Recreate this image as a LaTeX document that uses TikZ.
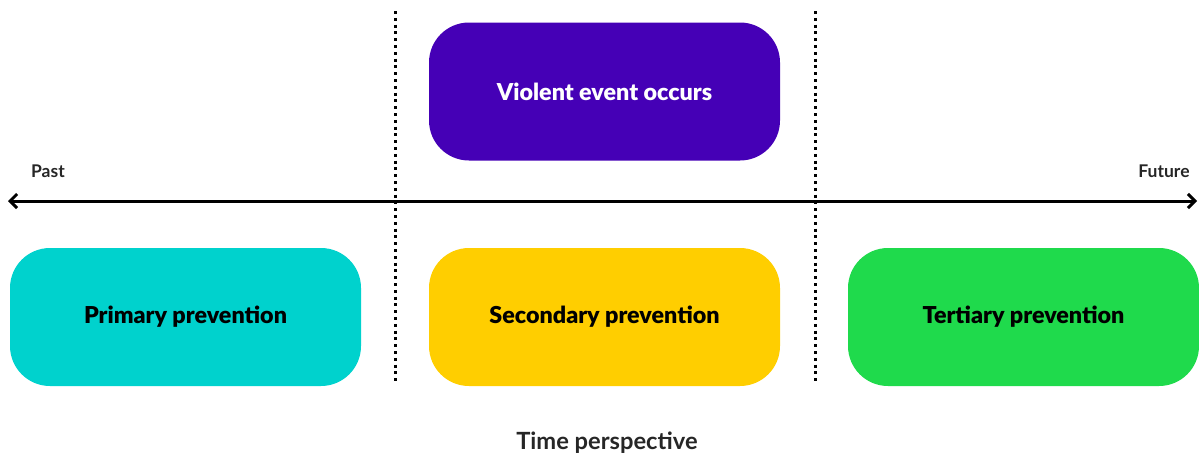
\documentclass[tikz,border=0pt]{standalone}
\usepackage{fontspec}
\setmainfont{Lato}
\newfontfamily\heavyfont{Lato Black}
\usetikzlibrary{arrows.meta}
\definecolor{violetbox}{HTML}{4500B6}
\definecolor{cyanbox}{HTML}{00D2CD}
\definecolor{yellowbox}{HTML}{FFCE00}
\definecolor{greenbox}{HTML}{1FDA4C}
\tikzset{
  phase/.style={rounded corners=40pt, minimum width=351pt, minimum height=138pt, inner sep=0pt, font=\fontsize{23.3}{27}\heavyfont, text=black},
  divider/.style={line width=3pt, dash pattern=on 3pt off 3.8pt},
  axislbl/.style={font=\fontsize{17.5}{20}\selectfont\bfseries, text=black!85},
}
\begin{document}
\begin{tikzpicture}[x=1pt,y=-1pt]
\useasboundingbox (0,0) rectangle (1199,458);
\node[phase, fill=violetbox, text=white] (event) at (604.5,91.5) {Violent event occurs};
\node[phase, fill=cyanbox] (primary) at (185.5,317) {Primary prevention};
\node[phase, fill=yellowbox] (secondary) at (604.5,317) {Secondary prevention};
\node[phase, fill=greenbox] (tertiary) at (1023.5,317) {Tertiary prevention};
\coordinate (d1top) at (395,11);
\coordinate (d1bot) at (395,383);
\coordinate (d2top) at (815,11);
\coordinate (d2bot) at (815,383);
\draw[divider] (d1top) -- (d1bot);
\draw[divider] (d2top) -- (d2bot);
\coordinate (pastend) at (8,201);
\coordinate (futend) at (1197,201);
\draw[line width=3pt, {Straight Barb[length=7pt,width=14pt]}-{Straight Barb[length=7pt,width=14pt]}] (pastend) -- (futend);
\node[axislbl] (past) at (48,171) {Past};
\node[axislbl] (future) at (1164,171) {Future};
\node[font=\fontsize{23.7}{27}\selectfont\bfseries, text=black!85] (time) at (607,443) {Time perspective};
\end{tikzpicture}
\end{document}
